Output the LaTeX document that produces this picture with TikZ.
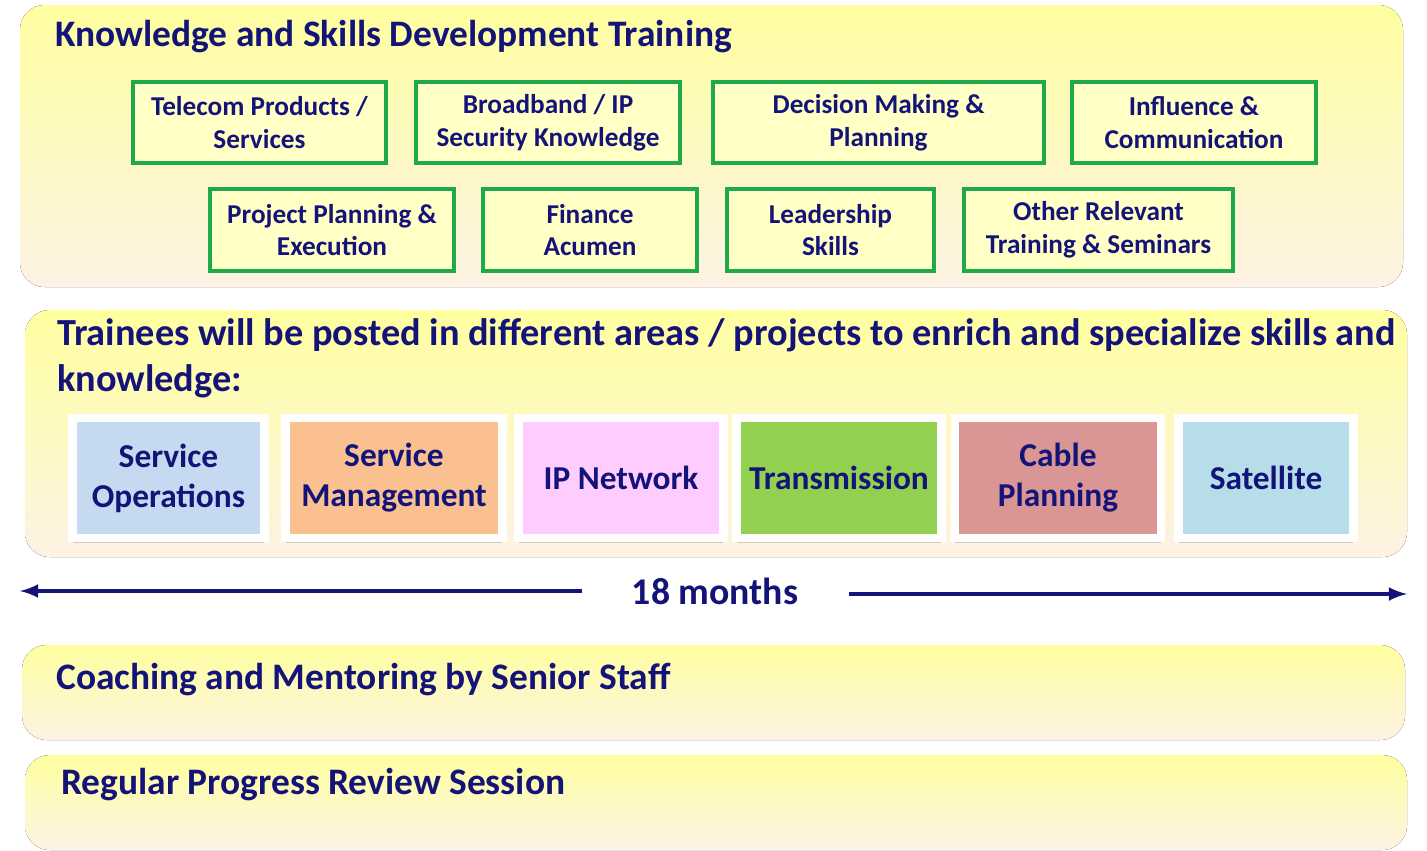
\documentclass[tikz,border=0pt]{standalone}
\usepackage{fontspec}
\setmainfont{Carlito}
\usetikzlibrary{shadows}
\definecolor{navy}{RGB}{20,20,120}
\definecolor{boxgreen}{RGB}{30,170,75}
\definecolor{panelTop}{RGB}{255,255,160}
\definecolor{panelBot}{RGB}{253,242,228}
\tikzset{
  panel/.style={rounded corners=14pt, top color=panelTop, bottom color=panelBot, draw=none},
  skill/.style={draw=boxgreen, line width=2pt, fill=panelTop!60, text=navy, font=\bfseries\fontsize{15.5}{18.7}\selectfont, align=center, inner sep=0pt},
  tile/.style={draw=white, line width=5pt, text=navy, font=\bfseries\fontsize{19}{22.7}\selectfont, align=center, inner sep=0pt, drop shadow={shadow xshift=0pt, shadow yshift=-3pt, opacity=0.35}},
  heading/.style={anchor=west, text=navy, font=\bfseries\fontsize{21.3}{26}\selectfont, align=left},
}
\begin{document}
\begin{tikzpicture}[x=0.02cm, y=-0.02cm]
    \useasboundingbox (0,0) rectangle (1427,850);

    % panneaux
    \fill[panel] (20,5) rectangle (1403,287);
    \fill[panel] (25,310) rectangle (1407,557);
    \fill[panel] (22,645) rectangle (1405,740);
    \fill[panel] (25,755) rectangle (1407,850);

    % formation
    \node[heading] (ksd) at (49,37) {Knowledge and Skills Development Training};
    \node[skill, minimum width=5.06cm, minimum height=1.62cm] (tel) at (259.5,122.5) {Telecom Products /\\Services};
    \node[skill, minimum width=5.28cm, minimum height=1.62cm] (bb) at (548,122.5) {Broadband / IP\\Security Knowledge};
    \node[skill, minimum width=6.62cm, minimum height=1.62cm] (dec) at (878.5,122.5) {Decision Making \&\\Planning};
    \node[skill, minimum width=4.88cm, minimum height=1.62cm] (infl) at (1194,122.5) {Influence \&\\Communication};
    \node[skill, minimum width=4.88cm, minimum height=1.64cm] (proj) at (332,230) {Project Planning \&\\Execution};
    \node[skill, minimum width=4.28cm, minimum height=1.64cm] (fin) at (590,230) {Finance\\Acumen};
    \node[skill, minimum width=4.14cm, minimum height=1.64cm] (lead) at (830.5,230) {Leadership\\Skills};
    \node[skill, minimum width=5.38cm, minimum height=1.64cm] (other) at (1098.5,230) {Other Relevant\\Training \& Seminars};

    % affectations
    \node[heading, font=\bfseries\fontsize{21.8}{26}\selectfont] (posted) at (51,358) {Trainees will be posted in different areas / projects to enrich and specialize skills and\\knowledge:};
    \node[tile, fill={rgb,255:red,197;green,217;blue,241}, minimum width=3.84cm, minimum height=2.4cm] (servop) at (168.5,478) {Service\\Operations};
    \node[tile, fill={rgb,255:red,250;green,192;blue,144}, minimum width=4.34cm, minimum height=2.4cm] (servman) at (394,478) {Service\\Management};
    \node[tile, fill={rgb,255:red,255;green,204;blue,255}, minimum width=4.1cm, minimum height=2.4cm] (ipnet) at (621,478) {IP Network};
    \node[tile, fill={rgb,255:red,146;green,208;blue,80}, minimum width=4.1cm, minimum height=2.4cm] (trans) at (839,478) {Transmission};
    \node[tile, fill={rgb,255:red,217;green,150;blue,148}, minimum width=4.12cm, minimum height=2.4cm] (cable) at (1058,478) {Cable\\Planning};
    \node[tile, fill={rgb,255:red,183;green,222;blue,232}, minimum width=3.5cm, minimum height=2.4cm] (sat) at (1266,478) {Satellite};

    % durée
    \node[text=navy, font=\bfseries\fontsize{21.5}{26}\selectfont] (months) at (715,591) {18 months};
    \coordinate (leftend) at (20,591);
    \coordinate (rightend) at (1407,594);
    \draw[navy, line width=2.5pt, ->, >=latex] (582,591) -- (leftend);
    \draw[navy, line width=2.5pt, ->, >=latex] (849,594) -- (rightend);

    % suivi
    \node[heading] (coach) at (50,680) {Coaching and Mentoring by Senior Staff};
    \node[heading] (review) at (55,785) {Regular Progress Review Session};

\end{tikzpicture}
\end{document}
